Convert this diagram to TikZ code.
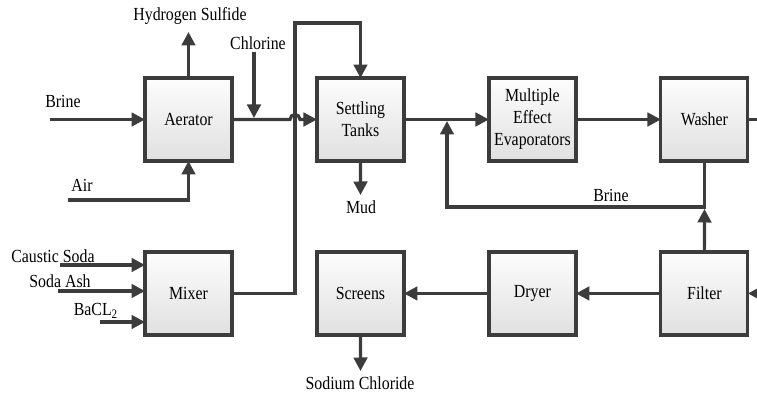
\documentclass[tikz,border=0pt]{standalone}
\usepackage{fontspec}
\setmainfont[FakeStretch=0.86]{Liberation Serif}
\usepackage{tikz}
\usetikzlibrary{arrows.meta, positioning}
\definecolor{linegray}{RGB}{60,60,60}
\definecolor{boxtop}{RGB}{253,253,253}
\definecolor{boxbottom}{RGB}{224,224,224}

\begin{document}
\begin{tikzpicture}[
    x=0.02cm, y=-0.02cm,
    node distance=1.82cm and 1.7cm,
    box/.style={draw=linegray, line width=1.8pt, minimum width=1.74cm, minimum height=1.66cm, outer sep=0pt, inner sep=1pt, align=center, top color=boxtop, bottom color=boxbottom, font=\fontsize{10.5}{12.5}\selectfont},
    flow/.style={draw=linegray, line width=1.8pt, -{Triangle[length=0.27cm, width=0.27cm]}},
    lbl/.style={inner sep=0pt, font=\fontsize{10.5}{12}\selectfont}
]
    \useasboundingbox (0,0) rectangle (757,394);
    \clip (0,0) rectangle (757,394);

    % process units
    \node[box] (aerator) at (188.5,119.5) {Aerator};
    \node[box, right=of aerator] (settling) {Settling\\Tanks};
    \node[box, right=of settling] (evap) {Multiple\\Effect\\Evaporators};
    \node[box, right=of evap] (washer) {Washer};
    \node[box, below=of aerator] (mixer) {Mixer};
    \node[box, right=of mixer] (screens) {Screens};
    \node[box, right=of screens] (dryer) {Dryer};
    \node[box, right=of dryer] (filter) {Filter};

    % stream labels
    \node[lbl] (brinein) at (63,101) {Brine};
    \node[lbl] (air) at (82,185) {Air};
    \node[lbl] (h2s) at (190,16) {Hydrogen Sulfide};
    \node[lbl] (chlorine) at (258,43) {Chlorine};
    \node[lbl] (mud) at (361,207) {Mud};
    \node[lbl] (brineback) at (611,195) {Brine};
    \node[lbl] (caustic) at (53,256) {Caustic Soda};
    \node[lbl] (sodaash) at (60,281) {Soda Ash};
    \node[lbl] (bacl) at (96,311) {BaCL\textsubscript{2}};
    \node[lbl] (salt) at (360,383) {Sodium Chloride};

    % free ends
    \coordinate (brinestart) at (50,119.5);
    \coordinate (airstart) at (68,200);
    \coordinate (h2send) at (188.5,32);
    \coordinate (cltop) at (254,52);
    \coordinate (cljoin) at (254,118);
    \coordinate (hop) at (295,119.5);
    \coordinate (mixup) at (295,23);
    \coordinate (mudend) at (360.5,195);
    \coordinate (recyc) at (447,207);
    \coordinate (recycend) at (447,121);
    \coordinate (filterup) at (704.5,209);
    \coordinate (offright) at (790,119.5);
    \coordinate (saltend) at (360.5,371);
    \coordinate (causticstart) at (60,265);
    \coordinate (sodaashstart) at (58,291);
    \coordinate (baclstart) at (100,322);

    % top line
    \draw[flow] (brinestart) -- (aerator);
    \draw[flow] (airstart) -| (aerator.south);
    \draw[flow] (aerator.north) -- (h2send);
    \draw[flow] (cltop) -- (cljoin);
    \draw[flow] (aerator.east) -- ([xshift=-0.1cm]hop) arc[start angle=180, end angle=0, radius=0.1cm] -- (settling.west);
    \draw[flow] (settling.south) -- (mudend);
    \draw[flow] (settling) -- (evap);
    \draw[flow] (evap) -- (washer);
    \draw[flow] (washer.south) |- (recyc) -- (recycend);
    \draw[flow] (filter.north) -- (filterup);
    \draw[flow] (washer.east) -- (offright) |- (filter.east);

    % bottom line
    \draw[flow] (causticstart) -- (causticstart -| mixer.west);
    \draw[flow] (sodaashstart) -- (sodaashstart -| mixer.west);
    \draw[flow] (baclstart) -- (baclstart -| mixer.west);
    \draw[flow] (mixer.east) -| (mixup) -| (settling.north);
    \draw[flow] (filter) -- (dryer);
    \draw[flow] (dryer) -- (screens);
    \draw[flow] (screens.south) -- (saltend);
\end{tikzpicture}
\end{document}
